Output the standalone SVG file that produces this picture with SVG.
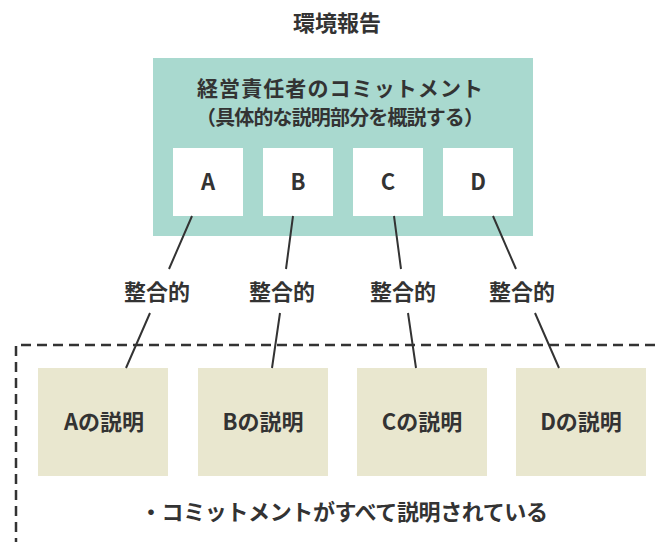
<svg xmlns="http://www.w3.org/2000/svg" width="661" height="542" viewBox="0 0 661 542">
<style>
text{font-family:"Noto Sans CJK JP","Noto Sans",sans-serif;font-weight:bold;fill:#333;text-anchor:middle}
.teal{fill:#a9d9cf}
.white{fill:#fff}
.tan{fill:#e9e7cf}
.ln{stroke:#333;stroke-width:2;fill:none}
.t22{font-size:22px}
.t21{font-size:21px}
.t20{font-size:20px}
</style>
<rect width="661" height="542" fill="#fff"/>
<text class="t22" x="337" y="31">環境報告</text>
<g id="commitment">
<rect class="teal" x="153" y="58" width="380" height="178"/>
<text class="t21" x="340" y="96" textLength="286">経営責任者のコミットメント</text>
<text class="t20" x="340" y="125" textLength="288">（具体的な説明部分を概説する）</text>
</g>
<g id="boxA"><rect class="white" x="173" y="148" width="70" height="68"/><text class="t22" x="208" y="190">A</text></g>
<g id="boxB"><rect class="white" x="263" y="148" width="70" height="68"/><text class="t22" x="298" y="190">B</text></g>
<g id="boxC"><rect class="white" x="353" y="148" width="70" height="68"/><text class="t22" x="388" y="190">C</text></g>
<g id="boxD"><rect class="white" x="443" y="148" width="70" height="68"/><text class="t22" x="478" y="190">D</text></g>
<g id="report-area">
<path d="M16,548 V345 H668" fill="none" stroke="#333" stroke-width="2.5" stroke-dasharray="10 6"/>
<text class="t22" x="344" y="520" textLength="408">・コミットメントがすべて説明されている</text>
</g>
<g id="descA"><rect class="tan" x="38" y="368" width="130" height="108"/><text class="t22" x="104" y="430">Aの説明</text></g>
<g id="descB"><rect class="tan" x="198" y="368" width="130" height="108"/><text class="t22" x="263" y="430">Bの説明</text></g>
<g id="descC"><rect class="tan" x="357" y="368" width="130" height="108"/><text class="t22" x="422" y="430">Cの説明</text></g>
<g id="descD"><rect class="tan" x="516" y="368" width="130" height="108"/><text class="t22" x="581" y="430">Dの説明</text></g>
<g id="connectors">
<path class="ln" d="M192,216 L169,269 M150,313 L126,368"/>
<path class="ln" d="M293,216 L286,269 M280,313 L272,368"/>
<path class="ln" d="M394,216 L401,269 M408,313 L416,368"/>
<path class="ln" d="M493,216 L516,269 M535,313 L559,368"/>
<text class="t22" x="157" y="300">整合的</text>
<text class="t22" x="282" y="300">整合的</text>
<text class="t22" x="403" y="300">整合的</text>
<text class="t22" x="522" y="300">整合的</text>
</g>
</svg>
